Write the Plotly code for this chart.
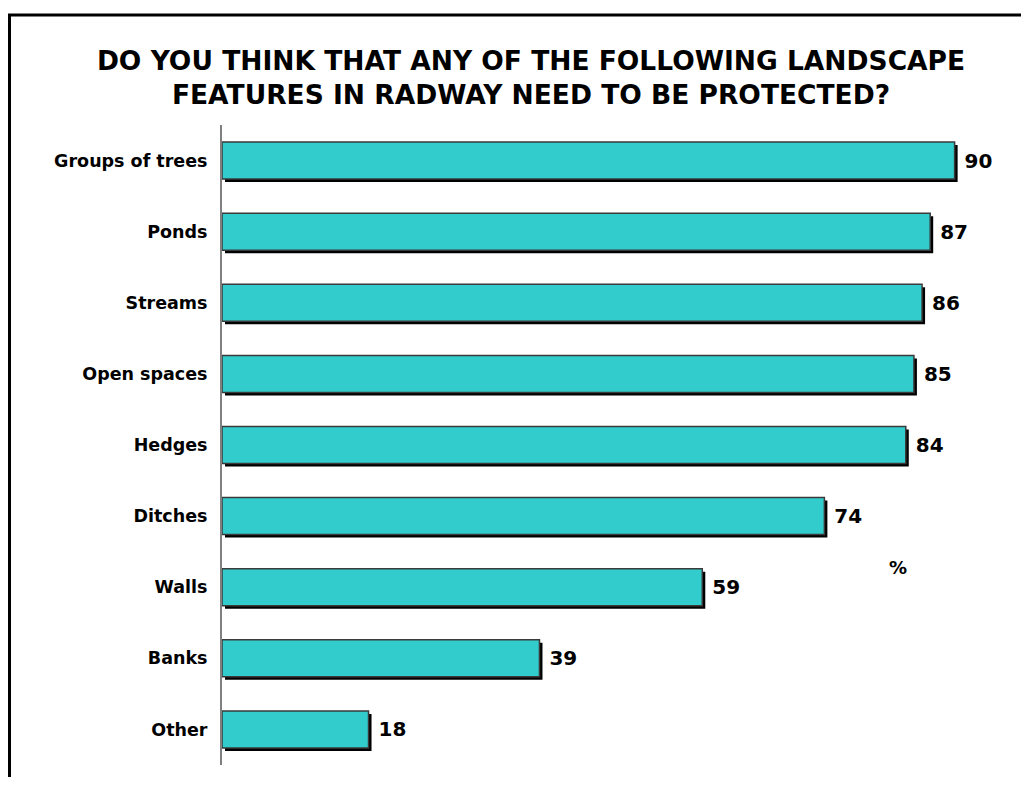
import plotly.graph_objects as go

categories = ["Groups of trees", "Ponds", "Streams", "Open spaces", "Hedges",
              "Ditches", "Walls", "Banks", "Other"]
values = [90, 87, 86, 85, 84, 74, 59, 39, 18]
title_lines = ["DO YOU THINK THAT ANY OF THE FOLLOWING LANDSCAPE",
               "FEATURES IN RADWAY NEED TO BE PROTECTED?"]
unit_label = "%"

# page body has an 8px margin; figure coords = screen coords - 8
W, H = 1013, 769
ML, MR, MT, MB = 214, 33, 117, 12
PW = W - ML - MR
PH = H - MT - MB
XMAX = 94.1
px_x = XMAX / PW          # data units per pixel (x)
n = len(categories)
px_y = n / PH             # data units per pixel (y)
ypos = list(range(n))
bw = 0.52
FONT = "DejaVu Sans"

fig = go.Figure()
# shadow
fig.add_trace(go.Bar(
    y=ypos, x=values, orientation="h",
    base=[3 * px_x] * n, width=bw, offset=-bw / 2 + 3 * px_y,
    marker=dict(color="black", line=dict(width=0)),
    hoverinfo="skip", showlegend=False))
# main bars
fig.add_trace(go.Bar(
    y=ypos, x=values, orientation="h", width=bw, offset=-bw / 2,
    marker=dict(color="#33CCCC", line=dict(color="#3a3a3a", width=1.5)),
    text=[" " + str(v) for v in values], textposition="outside",
    textfont=dict(family=FONT, size=20, color="black", weight="bold"),
    cliponaxis=False, showlegend=False))

fig.update_layout(
    width=W, height=H, barmode="overlay",
    margin=dict(l=ML, r=MR, t=MT, b=MB),
    paper_bgcolor="white", plot_bgcolor="white",
    font=dict(family=FONT, color="black"),
    title=dict(text="<b>" + "<br>".join(title_lines) + "</b>",
               x=(531 - 8) / W, xanchor="center", y=1 - 62 / H, yanchor="middle",
               yref="container",
               font=dict(family=FONT, size=26.5, color="black")),
    xaxis=dict(range=[0, XMAX], visible=False, showgrid=False),
    yaxis=dict(range=[n - 0.5, -0.5], tickmode="array", tickvals=ypos,
               ticktext=["<b>" + c + "</b>" for c in categories],
               tickfont=dict(family=FONT, size=17.5, color="black"),
               showline=True, linecolor="#808080", linewidth=2,
               ticks="", ticklabelstandoff=9, showgrid=False, zeroline=False),
)

# top tick on axis
fig.add_shape(type="line", xref="x", yref="y", xsizemode="pixel", xanchor=0,
              x0=-6, x1=0, y0=-0.5, y1=-0.5,
              line=dict(color="#808080", width=2))
# outer border (top & left visible)
fig.add_shape(type="rect", xref="paper", yref="paper",
              x0=(1.5 - ML) / PW, x1=(W + 20 - ML) / PW,
              y0=-(MB + 20) / PH, y1=1 + (MT - 7) / PH,
              line=dict(color="black", width=3), layer="below")

fig.add_annotation(text="<b>" + unit_label + "</b>", xref="paper", yref="paper",
                   x=(901 - ML) / PW, y=1 - (572 - MT) / PH,
                   showarrow=False, font=dict(family=FONT, size=18, color="black"))

fig.write_html("out.html")
